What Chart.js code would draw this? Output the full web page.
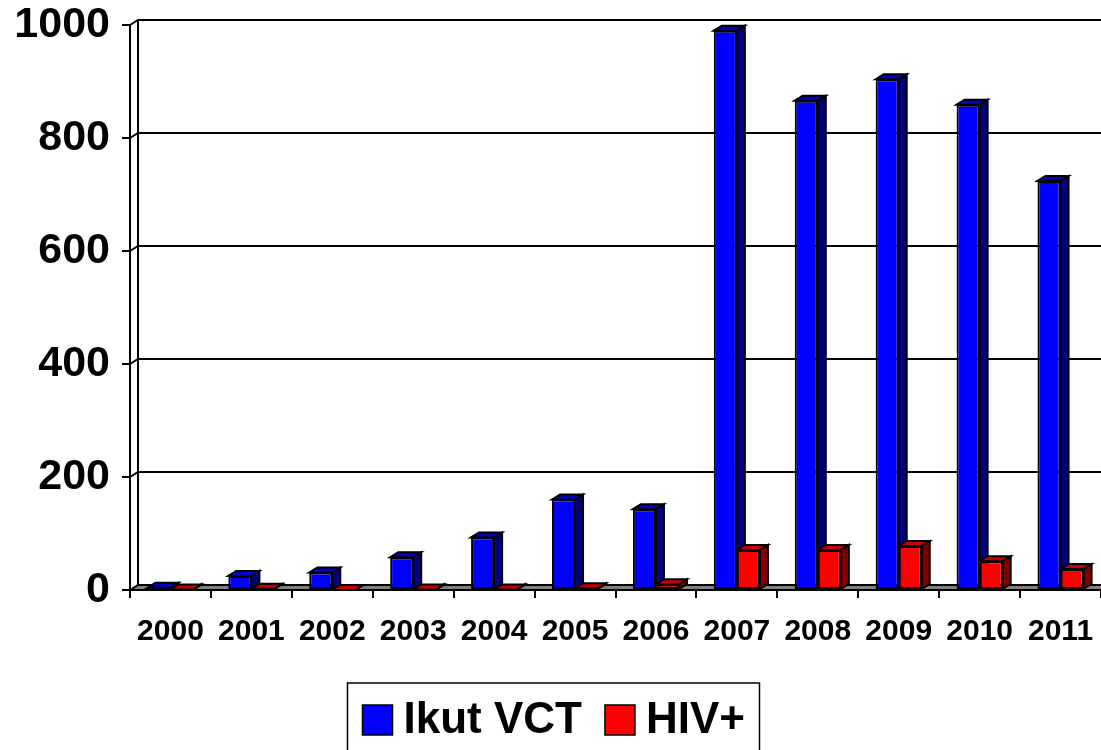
<!DOCTYPE html>
<html>
<head>
<meta charset="utf-8">
<script src="https://cdn.jsdelivr.net/npm/chart.js@4.4.1/dist/chart.umd.min.js"></script>
<style>
  html, body { margin: 0; padding: 0; background: #fff; }
  #wrap { width: 1101px; height: 750px; }
</style>
</head>
<body>
<div id="wrap"><canvas id="c" width="1101" height="750"></canvas></div>
<script>
// data
const years = ['2000', '2001', '2002', '2003', '2004', '2005', '2006', '2007', '2008', '2009', '2010', '2011'];
const ikutVCT = [4, 25, 31, 58, 93, 160, 143, 990, 866, 904, 859, 724];
const hivPos = [1, 2, 0, 1, 1, 3, 10, 71, 71, 78, 51, 37];
const yTicks = [0, 200, 400, 600, 800, 1000];

const FONT = "'Liberation Sans', Arial, sans-serif";
const DX = 8, DY = 5;   // 3d depth offset
const LW = 2;

// side / top shades for each series
const shades = [
  { front: '#0000FF', top: '#0000C8', side: '#000080' },
  { front: '#FF0000', top: '#C80000', side: '#800000' }
];

function poly(ctx, pts, fill) {
  ctx.beginPath();
  ctx.moveTo(pts[0][0], pts[0][1]);
  for (let i = 1; i < pts.length; i++) ctx.lineTo(pts[i][0], pts[i][1]);
  ctx.closePath();
  if (fill) { ctx.fillStyle = fill; ctx.fill(); }
  ctx.stroke();
}

// walls, floor, back gridlines and the side/top faces of the bars
const depthPlugin = {
  id: 'depth',
  beforeDatasetsDraw(chart) {
    const { ctx, chartArea: a, scales: { y } } = chart;
    ctx.save();
    ctx.lineWidth = LW;
    ctx.strokeStyle = '#000';

    // back gridlines + connectors from the front ticks
    yTicks.forEach(v => {
      if (v === 0) return;
      const py = y.getPixelForValue(v);
      ctx.beginPath();
      ctx.moveTo(a.left, py);
      ctx.lineTo(a.left + DX, py - DY);
      ctx.lineTo(a.right + DX, py - DY);
      ctx.stroke();
    });
    // back wall left edge
    ctx.beginPath();
    ctx.moveTo(a.left + DX, a.top - DY);
    ctx.lineTo(a.left + DX, a.bottom - DY);
    ctx.stroke();
    // floor
    poly(ctx, [[a.left, a.bottom], [a.left + DX, a.bottom - DY], [a.right + DX, a.bottom - DY], [a.right, a.bottom]], '#808080');

    // bar depth faces, category by category, back series first
    const metas = chart.data.datasets.map((d, i) => chart.getDatasetMeta(i));
    for (let i = 0; i < years.length; i++) {
      metas.forEach((meta, di) => {
        const el = meta.data[i];
        if (!el) return;
        const { x, y: top, base, width } = el;
        const l = x - width / 2, r = x + width / 2;
        poly(ctx, [[r, top], [r + DX, top - DY], [r + DX, base - DY], [r, base]], shades[di].side);
        poly(ctx, [[l, top], [l + DX, top - DY], [r + DX, top - DY], [r, top]], shades[di].top);
      });
    }
    ctx.restore();
  },
  afterDraw(chart) {
    // boxed legend under the axis
    const { ctx } = chart;
    ctx.save();
    ctx.font = 'bold 44px ' + FONT;
    ctx.textBaseline = 'middle';
    const sq = 30, gapText = 11, gapItem = 23, pad = 15;
    const items = chart.data.datasets.map(d => ({ text: d.label, color: d.backgroundColor, w: ctx.measureText(d.label).width }));
    let total = 0;
    items.forEach((it, i) => { total += sq + gapText + it.w + (i < items.length - 1 ? gapItem : 0); });
    const cx = 553, cy = 720;
    const boxL = Math.round(cx - total / 2 - pad) + 0.5;
    ctx.lineWidth = 1.5;
    ctx.strokeStyle = '#000';
    ctx.strokeRect(boxL, cy - 37, Math.round(total + pad * 2), 80);
    let x = boxL + pad;
    items.forEach(it => {
      ctx.fillStyle = it.color;
      ctx.fillRect(x, cy - sq / 2, sq, sq);
      ctx.strokeRect(x, cy - sq / 2, sq, sq);
      x += sq + gapText;
      ctx.fillStyle = '#000';
      ctx.fillText(it.text, x, cy + 1);
      x += it.w + gapItem;
    });
    ctx.restore();
  }
};

new Chart(document.getElementById('c'), {
  type: 'bar',
  data: {
    labels: years,
    datasets: [
      { label: 'Ikut VCT', data: ikutVCT, backgroundColor: shades[0].front, borderColor: '#000', borderWidth: LW, borderSkipped: false },
      { label: 'HIV+', data: hivPos, backgroundColor: shades[1].front, borderColor: '#000', borderWidth: LW, borderSkipped: false }
    ]
  },
  options: {
    responsive: false,
    animation: false,
    layout: { padding: { left: 14, right: 0, top: 0, bottom: 100 } },
    plugins: {
      legend: { display: false },
      tooltip: { enabled: false }
    },
    datasets: {
      bar: { categoryPercentage: 0.57, barPercentage: 1.0 }
    },
    scales: {
      x: {
        grid: { display: true, drawOnChartArea: false, drawTicks: true, tickLength: 8, color: '#000', lineWidth: LW, offset: true },
        border: { display: false },
        afterFit: axis => { axis.height = 60; axis.paddingLeft = 0; axis.paddingRight = 0; },
        ticks: { color: '#000', padding: 16, maxRotation: 0, autoSkip: false, font: { family: FONT, size: 30, weight: 'bold' } }
      },
      y: {
        min: 0,
        max: 1000,
        grid: { display: true, drawOnChartArea: false, drawTicks: true, tickLength: 8, color: '#000', lineWidth: LW },
        border: { display: true, color: '#000', width: LW },
        afterBuildTicks: axis => { axis.ticks = yTicks.map(v => ({ value: v })); },
        afterFit: axis => { axis.width = 116; axis.paddingTop = 25; axis.paddingBottom = 0; },
        ticks: { color: '#000', padding: 12, callback: v => String(v), font: { family: FONT, size: 43, weight: 'bold' } }
      }
    }
  },
  plugins: [depthPlugin]
});
</script>
</body>
</html>
